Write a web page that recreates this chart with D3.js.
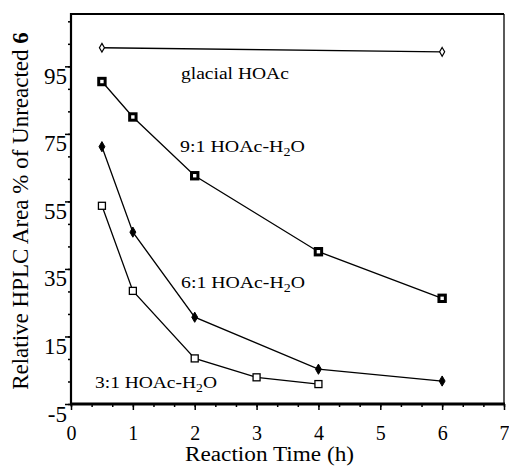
<!DOCTYPE html>
<html>
<head>
<meta charset="utf-8">
<script src="https://cdn.jsdelivr.net/npm/d3@7"></script>
<style>
  html, body { margin: 0; padding: 0; background: #fff; }
  svg { display: block; }
</style>
</head>
<body>
<svg id="chart" width="509" height="470"></svg>
<script>
// ---- data ----
const glacialTime = [0.5, 6];
const glacialArea = [100.5, 99.3];
const time91 = [0.5, 1, 2, 4, 6];
const area91 = [90.5, 80.0, 62.6, 40.1, 26.3];
const time61 = [0.5, 1, 2, 4, 6];
const area61 = [71.2, 45.9, 20.7, 5.3, 1.8];
const time31 = [0.5, 1, 2, 3, 4];
const area31 = [53.7, 28.5, 8.5, 2.9, 0.9];
const xTickValues = [0, 1, 2, 3, 4, 5, 6, 7];
const yTickValues = [-5, 15, 35, 55, 75, 95];
const seriesNames = ["glacial HOAc", "9:1 HOAc-H", "6:1 HOAc-H", "3:1 HOAc-H"];

const FONT = '"Liberation Serif", "Times New Roman", serif';
const svg = d3.select("#chart");
const L = 71, R = 504, T = 14, B = 404;
const x = d3.scaleLinear().domain([0, 7]).range([L, R]);
const y = d3.scaleLinear().domain([-5, 110.5]).range([B, T]);

// frame top/right
svg.append("line").attr("x1", L).attr("x2", R).attr("y1", T).attr("y2", T)
  .attr("stroke", "#000").attr("stroke-width", 2);
svg.append("line").attr("x1", R).attr("x2", R).attr("y1", T).attr("y2", B)
  .attr("stroke", "#000").attr("stroke-width", 1.3);

// minor ticks
const xMinor = d3.range(0, 7.001, 1 / 3);
const yMinor = d3.range(-5, 110.5, 20 / 3);
const fmt = d => String(d);

svg.append("g").attr("transform", `translate(0,${B})`)
  .call(d3.axisBottom(x).tickValues(xMinor).tickSize(3).tickFormat(""))
  .call(g => g.select(".domain").remove());
const xAxisMaj = svg.append("g").attr("transform", `translate(0,${B})`)
  .call(d3.axisBottom(x).tickValues(xTickValues).tickSize(6).tickPadding(0).tickFormat(fmt))
  .call(g => g.select(".domain").remove());
xAxisMaj.selectAll("text").attr("y", 36).attr("dy", null)
  .style("font-family", FONT).style("font-size", "20px").attr("fill", "#000");

svg.append("g").attr("transform", `translate(${L},0)`)
  .call(d3.axisLeft(y).tickValues(yMinor).tickSize(3).tickFormat(""))
  .call(g => g.select(".domain").remove());
const yAxisMaj = svg.append("g").attr("transform", `translate(${L},0)`)
  .call(d3.axisLeft(y).tickValues(yTickValues).tickSize(6).tickPadding(4).tickFormat(fmt))
  .call(g => g.select(".domain").remove());
yAxisMaj.selectAll("text").attr("dy", null).attr("y", 17).attr("x", -4)
  .style("font-family", FONT).style("font-size", "23px").attr("fill", "#000");
svg.selectAll("g.tick line").attr("stroke-width", 1.5);

// axis lines
svg.append("line").attr("x1", L - 1).attr("x2", R + 1).attr("y1", B).attr("y2", B)
  .attr("stroke", "#000").attr("stroke-width", 3);
svg.append("line").attr("x1", L).attr("x2", L).attr("y1", T - 1).attr("y2", B)
  .attr("stroke", "#000").attr("stroke-width", 2.2);

// series
const line = d3.line().x(d => x(d[0])).y(d => y(d[1]));
function series(ts, vs) { return ts.map((t, i) => [t, vs[i]]); }
const sG = series(glacialTime, glacialArea);
const s91 = series(time91, area91);
const s61 = series(time61, area61);
const s31 = series(time31, area31);

[sG, s91, s61, s31].forEach(s => {
  svg.append("path").attr("d", line(s)).attr("fill", "none")
    .attr("stroke", "#000").attr("stroke-width", 1.3);
});

const diamond = d3.symbol().type(d3.symbolDiamond);
svg.selectAll(".mg").data(sG).join("path")
  .attr("transform", d => `translate(${x(d[0])},${y(d[1])})`)
  .attr("d", diamond.size(22)()).attr("fill", "#fff").attr("stroke", "#000").attr("stroke-width", 1.2);
svg.selectAll(".m91").data(s91).join("rect")
  .attr("x", d => x(d[0]) - 3.2).attr("y", d => y(d[1]) - 3.2)
  .attr("width", 6.4).attr("height", 6.4).attr("fill", "#fff").attr("stroke", "#000").attr("stroke-width", 3);
svg.selectAll(".m61").data(s61).join("path")
  .attr("transform", d => `translate(${x(d[0])},${y(d[1])})`)
  .attr("d", diamond.size(30)()).attr("fill", "#000").attr("stroke", "#000").attr("stroke-width", 1);
svg.selectAll(".m31").data(s31).join("rect")
  .attr("x", d => x(d[0]) - 3.5).attr("y", d => y(d[1]) - 3.5)
  .attr("width", 7).attr("height", 7).attr("fill", "#fff").attr("stroke", "#000").attr("stroke-width", 1.3);

// series labels
function label(xp, yp, name, sub, targetW) {
  const t = svg.append("text").style("font-family", FONT).style("font-size", "17px").attr("fill", "#000");
  t.append("tspan").text(name);
  if (sub) {
    t.append("tspan").style("font-size", "12px").attr("dy", 4).text("2");
    t.append("tspan").attr("dy", -4).text("O");
  }
  const w = t.node().getComputedTextLength();
  const sx = targetW / w;
  t.attr("transform", `translate(${xp},${yp}) scale(${sx},1)`);
}
label(181, 79, seriesNames[0], false, 108);
label(180, 152, seriesNames[1], true, 125);
label(181, 288, seriesNames[2], true, 124);
label(95, 388, seriesNames[3], true, 122);

// axis titles
svg.append("text").attr("x", 185).attr("y", 461)
  .style("font-family", FONT).style("font-size", "20px")
  .attr("textLength", 169).attr("lengthAdjust", "spacingAndGlyphs")
  .text("Reaction Time (h)");

const yt = svg.append("text").style("font-family", FONT).style("font-size", "23px")
  .attr("text-anchor", "middle")
  .attr("transform", "translate(28,211) rotate(-90)");
yt.append("tspan").text("Relative HPLC Area % of Unreacted ");
yt.append("tspan").attr("font-weight", "bold").text("6");
</script>
</body>
</html>
